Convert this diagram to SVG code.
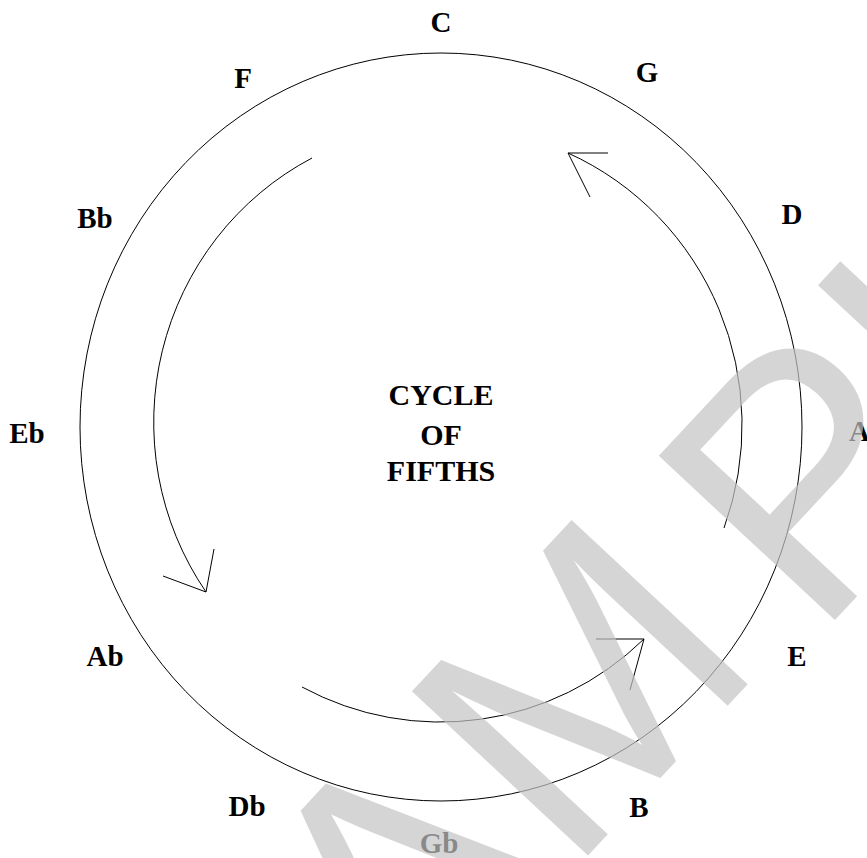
<svg xmlns="http://www.w3.org/2000/svg" width="867" height="858" viewBox="0 0 867 858">
<style>
.lbl{font-family:"Liberation Serif","Times New Roman",serif;font-weight:bold;font-size:29px;fill:#000;text-anchor:middle}
.ctr{font-size:30px}
.ln{fill:none;stroke:#000;stroke-width:1}
.wm{font-family:"Liberation Sans",Arial,sans-serif;font-size:350px;fill:#c4c4c4;opacity:0.7}
</style>
<rect width="867" height="858" fill="#fff"/>
<g id="circle"><ellipse class="ln" cx="441" cy="427" rx="361" ry="374"/></g>
<g id="connectors">
<path class="ln" d="M312 158 A294 298 0 0 0 206 592"/>
<path class="ln" d="M163 576 L206 592 L214 549"/>
<path class="ln" d="M724 528 A294 298 0 0 0 568 153"/>
<path class="ln" d="M608 153 L568 153 L590 197"/>
<path class="ln" d="M302 687 A294 298 0 0 0 644 639"/>
<path class="ln" d="M596 639 L644 639 L630 690"/>
</g>
<g id="n-C"><text class="lbl" x="441" y="32">C</text></g>
<g id="n-G"><text class="lbl" x="647" y="82">G</text></g>
<g id="n-D"><text class="lbl" x="792" y="224">D</text></g>
<g id="n-A"><text class="lbl" x="849" y="441" style="text-anchor:start">A</text></g>
<g id="n-E"><text class="lbl" x="797" y="666">E</text></g>
<g id="n-B"><text class="lbl" x="639" y="817">B</text></g>
<g id="n-Gb"><text class="lbl" x="439" y="853">Gb</text></g>
<g id="n-Db"><text class="lbl" x="247" y="816">Db</text></g>
<g id="n-Ab"><text class="lbl" x="105" y="666">Ab</text></g>
<g id="n-Eb"><text class="lbl" x="27" y="443">Eb</text></g>
<g id="n-Bb"><text class="lbl" x="95" y="228">Bb</text></g>
<g id="n-F"><text class="lbl" x="243" y="88">F</text></g>
<g id="center"><text class="lbl ctr" x="441" y="405">CYCLE</text><text class="lbl ctr" x="441" y="445">OF</text><text class="lbl ctr" x="441" y="481">FIFTHS</text></g>
<g id="watermark"><text class="wm" transform="translate(250,1218) rotate(-47)" dx="0 0 0 49" dy="0 0 0 20">SAMPLE</text></g>
</svg>
